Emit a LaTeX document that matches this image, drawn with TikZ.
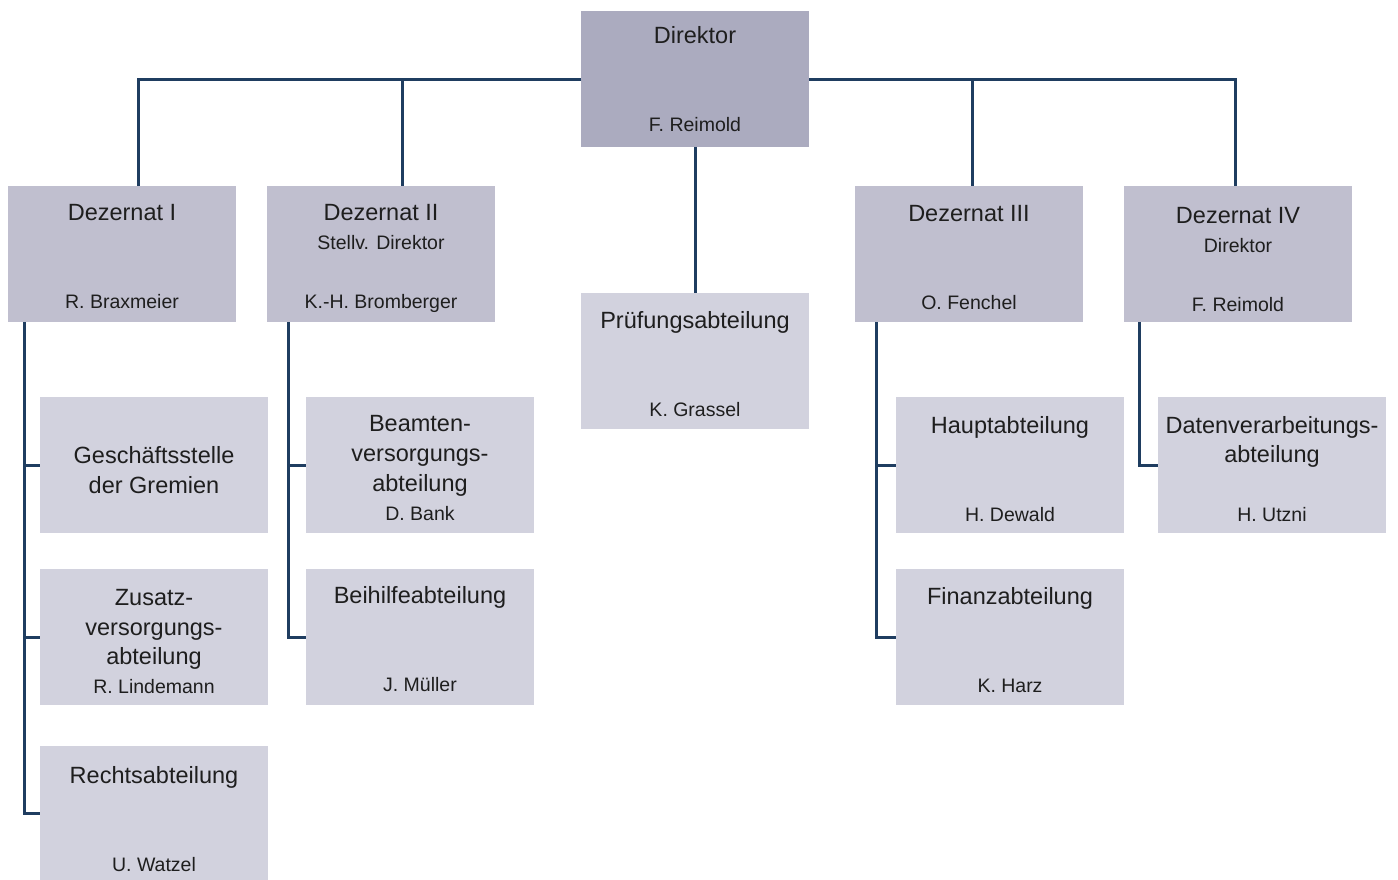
\documentclass[tikz,border=0pt]{standalone}
\usepackage{fontspec}
\setmainfont{Liberation Sans}
\definecolor{dirfill}{HTML}{ABABBF}
\definecolor{dezfill}{HTML}{C0BFCF}
\definecolor{subfill}{HTML}{D2D2DE}
\definecolor{linecol}{HTML}{1F3D60}
\definecolor{txtcol}{HTML}{1E1E1E}
\begin{document}
\begin{tikzpicture}[x=1pt,y=-1pt,
  orgbox/.style={rectangle,inner sep=0pt,outer sep=0pt,minimum width=228pt,minimum height=136pt,anchor=north west,draw=none},
  dirbox/.style={orgbox,fill=dirfill},
  dezbox/.style={orgbox,fill=dezfill},
  subbox/.style={orgbox,fill=subfill},
  ttl/.style={font=\fontsize{23.5}{28}\selectfont,anchor=base,inner sep=0pt,text=txtcol},
  nm/.style={font=\fontsize{19.5}{23}\selectfont,anchor=base,inner sep=0pt,text=txtcol},
  conn/.style={draw=linecol,line width=3pt}]
\useasboundingbox (0,0) rectangle (1398,880);
\fill[white] (0,0) rectangle (1398,880);
% boxes
\node[dirbox] (dir) at (581,11) {};
\node[subbox] (pr) at (581,293) {};
\node[dezbox] (dz1) at (8,186) {};
\node[dezbox] (dz2) at (267,186) {};
\node[dezbox] (dz3) at (855,186) {};
\node[dezbox] (dz4) at (1124,186) {};
\node[subbox] (gs) at (40,397) {};
\node[subbox] (zs) at (40,569) {};
\node[subbox,minimum height=134pt] (rs) at (40,746) {};
\node[subbox] (bv) at (306,397) {};
\node[subbox] (bh) at (306,569) {};
\node[subbox] (ha) at (896,397) {};
\node[subbox] (fa) at (896,569) {};
\node[subbox] (dv) at (1158,397) {};
% connectors
\draw[conn] ([yshift=-1pt]dir.west) -| ([xshift=130pt]dz1.north west);
\draw[conn] ([yshift=-1pt]dir.west) -| ([xshift=135pt]dz2.north west);
\draw[conn] ([yshift=-1pt]dir.east) -| ([xshift=117pt]dz3.north west);
\draw[conn] ([yshift=-1pt]dir.east) -| ([xshift=111pt]dz4.north west);
\draw[conn] (dir.south) -- (pr.north);
\draw[conn] ([xshift=16pt]dz1.south west) |- (gs.west);
\draw[conn] ([xshift=16pt]dz1.south west) |- (zs.west);
\draw[conn] ([xshift=16pt]dz1.south west) |- (rs.west);
\draw[conn] ([xshift=21pt]dz2.south west) |- (bv.west);
\draw[conn] ([xshift=21pt]dz2.south west) |- (bh.west);
\draw[conn] ([xshift=21pt]dz3.south west) |- (ha.west);
\draw[conn] ([xshift=21pt]dz3.south west) |- (fa.west);
\draw[conn] ([xshift=15pt]dz4.south west) |- (dv.west);
% texts
\node[ttl] (t-dir) at (695,44) {Direktor};
\node[nm] (n-dir) at (695,132) {F. Reimold};
\node[ttl] (t-pr) at (695,328) {Prüfungsabteilung};
\node[nm] (n-pr) at (695,416) {K. Grassel};
\node[ttl] (t-dz1) at (122,220) {Dezernat I};
\node[nm] (n-dz1) at (122,308) {R. Braxmeier};
\node[ttl] (t-dz2) at (381,220) {Dezernat II};
\node[nm] (s-dz2) at (381,249) {Stellv. Direktor};
\node[nm] (n-dz2) at (381,308) {K.-H. Bromberger};
\node[ttl] (t-dz3) at (969,221) {Dezernat III};
\node[nm] (n-dz3) at (969,309) {O. Fenchel};
\node[ttl] (t-dz4) at (1238,223) {Dezernat IV};
\node[nm] (s-dz4) at (1238,252) {Direktor};
\node[nm] (n-dz4) at (1238,311) {F. Reimold};
\node[ttl] (t-gs1) at (154,463) {Geschäftsstelle};
\node[ttl] (t-gs2) at (154,493) {der Gremien};
\node[ttl] (t-zs1) at (154,605) {Zusatz-};
\node[ttl] (t-zs2) at (154,635) {versorgungs-};
\node[ttl] (t-zs3) at (154,664) {abteilung};
\node[nm] (n-zs) at (154,693) {R. Lindemann};
\node[ttl] (t-rs) at (154,783) {Rechtsabteilung};
\node[nm] (n-rs) at (154,871) {U. Watzel};
\node[ttl] (t-bv1) at (420,431) {Beamten-};
\node[ttl] (t-bv2) at (420,461) {versorgungs-};
\node[ttl] (t-bv3) at (420,491) {abteilung};
\node[nm] (n-bv) at (420,520) {D. Bank};
\node[ttl] (t-bh) at (420,603) {Beihilfeabteilung};
\node[nm] (n-bh) at (420,691) {J. Müller};
\node[ttl] (t-ha) at (1010,433) {Hauptabteilung};
\node[nm] (n-ha) at (1010,521) {H. Dewald};
\node[ttl] (t-fa) at (1010,604) {Finanzabteilung};
\node[nm] (n-fa) at (1010,692) {K. Harz};
\node[ttl] (t-dv1) at (1272,433) {Datenverarbeitungs-};
\node[ttl] (t-dv2) at (1272,462) {abteilung};
\node[nm] (n-dv) at (1272,521) {H. Utzni};
\end{tikzpicture}
\end{document}
